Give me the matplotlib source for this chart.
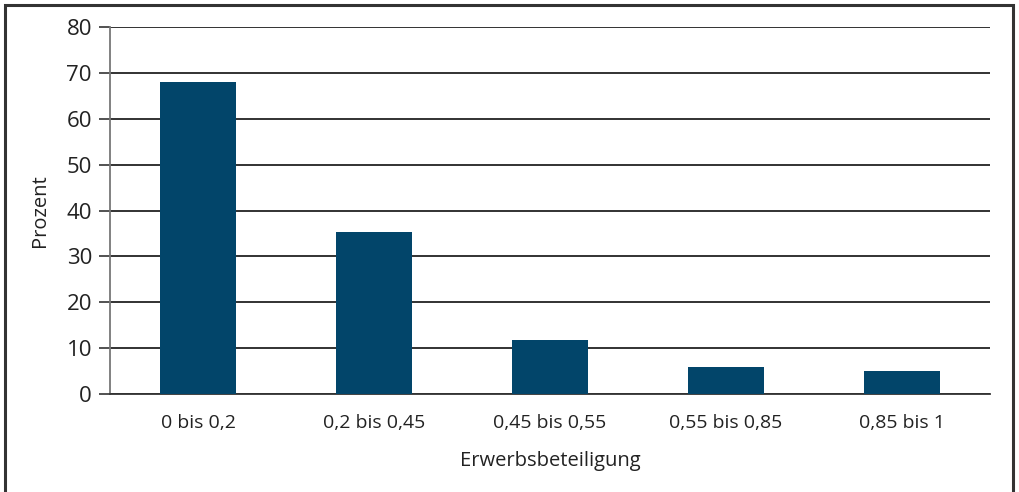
import matplotlib
matplotlib.use("Agg")
import matplotlib.pyplot as plt
from matplotlib.patches import Rectangle

categories = ["0 bis 0,2", "0,2 bis 0,45", "0,45 bis 0,55", "0,55 bis 0,85", "0,85 bis 1"]
values = [68.0, 35.3, 11.8, 5.9, 5.0]
yticks = [0, 10, 20, 30, 40, 50, 60, 70, 80]

plt.rcParams["font.family"] = ["Open Sans", "DejaVu Sans"]

fig = plt.figure(figsize=(10.19, 4.92), dpi=100)
ax = fig.add_axes([0.108, 0.199, 0.8635, 0.746])

x = range(len(categories))
ax.bar(x, values, width=0.43, color="#02456a", zorder=3)

ax.set_xlim(-0.5, len(categories) - 0.5)
ax.set_ylim(0, 80)
ax.set_yticks(yticks)
ax.set_xticks(list(x))
ax.set_xticklabels(categories, fontsize=14, color="#222222")
ax.tick_params(axis="y", labelsize=16, length=8, width=1.2, color="#333333",
               labelcolor="#222222", pad=5)
ax.tick_params(axis="x", length=0, pad=14)

ax.yaxis.grid(True, color="#222222", linewidth=1.3, zorder=1)
for side in ["top", "right"]:
    ax.spines[side].set_visible(False)
ax.spines["left"].set_color("#777777")
ax.spines["left"].set_linewidth(1.3)
ax.spines["bottom"].set_color("#333333")
ax.spines["bottom"].set_linewidth(1.3)

ax.set_ylabel("Prozent", fontsize=14.5, color="#222222", labelpad=12)
ax.set_xlabel("Erwerbsbeteiligung", fontsize=14.5, color="#222222", labelpad=14)

# outer frame
fig.patches.append(Rectangle((0.005, -0.05), 0.989, 1.04, transform=fig.transFigure,
                             fill=False, edgecolor="#333333", linewidth=2.2))

fig.savefig("out.png", dpi=100)
